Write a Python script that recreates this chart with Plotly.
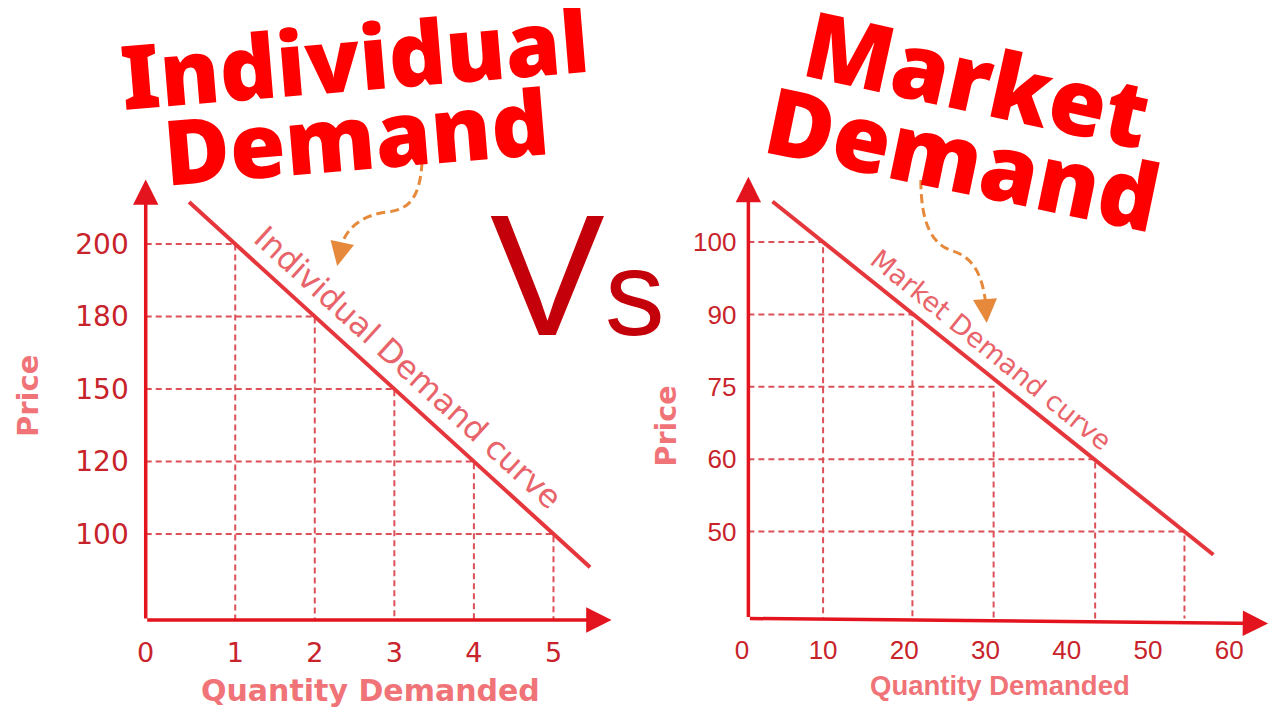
import plotly.graph_objects as go

# ---------------- data ----------------
# Individual demand schedule
ind_qty = [1, 2, 3, 4, 5]
ind_price = [200, 180, 150, 120, 100]
ind_x_ticks = [0, 1, 2, 3, 4, 5]

# Market demand schedule
mkt_qty = [10, 21, 31, 43.5, 54.5]
mkt_price = [100, 90, 75, 60, 50]
mkt_x_ticks = [0, 10, 20, 30, 40, 50, 60]

# ---------------- style constants ----------------
W, H = 1280, 720
OFF = 8  # page body margin
AXIS_C = "#e3141e"
TICK_C = "#c8232b"
GUIDE_C = "#dc5058"
LINE_C = "#e5363c"
LABEL_C = "#e8646a"
TITLE_AX_C = "#f07378"
TITLE_C = "#ff0000"
ORANGE = "#e6893b"
VS_C = "#c4000b"

# price positions: evenly spaced ranks (highest price on top)
ind_pos = list(range(len(ind_price), 0, -1))
mkt_pos = list(range(len(mkt_price), 0, -1))


def xdom(origin, scale, rng):
    return [(origin + scale * rng[0] - OFF) / W, (origin + scale * rng[1] - OFF) / W]


def ydom(origin, scale, rng):
    return [1 - (origin - scale * rng[0] - OFF) / H, 1 - (origin - scale * rng[1] - OFF) / H]


def P(x, y):
    return (x - OFF) / W, 1 - (y - OFF) / H


def path_from(pts):
    s = ""
    for cmd, coords in pts:
        s += cmd + " " + " ".join("%.5f,%.5f" % P(x, y) for x, y in coords) + " "
    return s.strip()


# axis geometry (page-pixel origin and pixels per unit)
LX_O, LX_S, LX_R = 153.0, 79.75, [-0.2, 5.8]
LY_O, LY_S, LY_R = 606.5, 72.5, [-0.3, 6.0]
RX_O, RX_S, RX_R = 740.6, 8.14, [-0.5, 65.5]
RY_O, RY_S, RY_R = 604.0, 72.4, [-0.3, 6.0]

L_AX_X, L_AX_Y = -0.125, -0.186
L_TIP_X, L_TIP_Y = 5.73, 5.89
R_AX_X, R_AX_Y = 0.8, -0.2
R_TIP_X, R_TIP_Y = 64.8, 5.9
R_TILT = -0.07


def extend(q, p, a, b):
    # straight line from first to last point, extended at both ends
    dq, dp = q[-1] - q[0], p[-1] - p[0]
    xs = [q[0] - a * dq, q[-1] + b * dq]
    ys = [p[0] - a * dp, p[-1] + b * dp]
    return xs, ys


def guides(q, p, x0, y0):
    xs, ys = [], []
    for qi, pi in zip(q, p):
        xs += [x0, qi, qi, None]
        ys += [pi, pi, y0, None]
    return xs, ys


fig = go.Figure()

# guides
gx, gy = guides(ind_qty, ind_pos, L_AX_X, L_AX_Y)
fig.add_trace(go.Scatter(x=gx, y=gy, mode="lines", xaxis="x", yaxis="y",
                         line=dict(color=GUIDE_C, width=2, dash="6px,4px"),
                         hoverinfo="skip", showlegend=False))
gx, gy = guides(mkt_qty, mkt_pos, R_AX_X, R_AX_Y)
fig.add_trace(go.Scatter(x=gx, y=gy, mode="lines", xaxis="x2", yaxis="y2",
                         line=dict(color=GUIDE_C, width=2, dash="6px,4px"),
                         hoverinfo="skip", showlegend=False))

# demand curves
cx, cy = extend(ind_qty, ind_pos, 0.145, 0.115)
fig.add_trace(go.Scatter(x=cx, y=cy, mode="lines", xaxis="x", yaxis="y",
                         line=dict(color=LINE_C, width=4),
                         showlegend=False, name="Individual Demand curve"))
cx, cy = extend(mkt_qty, mkt_pos, 0.14, 0.08)
fig.add_trace(go.Scatter(x=cx, y=cy, mode="lines", xaxis="x2", yaxis="y2",
                         line=dict(color=LINE_C, width=4),
                         showlegend=False, name="Market Demand curve"))

ann = []
# axis arrows
for xr, yr, x0, y0, x1, y1 in [
    ("x", "y", L_AX_X, L_AX_Y, L_AX_X, L_TIP_Y),
    ("x", "y", L_AX_X, L_AX_Y, L_TIP_X, L_AX_Y),
    ("x2", "y2", R_AX_X, R_AX_Y, R_AX_X, R_TIP_Y),
    ("x2", "y2", R_AX_X, R_AX_Y, R_TIP_X, R_AX_Y + R_TILT),
]:
    ann.append(dict(x=x1, y=y1, ax=x0, ay=y0, xref=xr, yref=yr, axref=xr, ayref=yr,
                    text="", showarrow=True, arrowhead=2, arrowsize=1.45,
                    arrowwidth=3.5, arrowcolor=AXIS_C, standoff=0))

# curve labels
ann.append(dict(x=ind_qty[2], y=ind_pos[2], xref="x", yref="y", xshift=14, yshift=21,
                text="Individual Demand curve", showarrow=False, textangle=42.3,
                font=dict(family="DejaVu Sans", size=32, color=LABEL_C)))
ann.append(dict(x=mkt_qty[2], y=mkt_pos[2], xref="x2", yref="y2", xshift=-3, yshift=37,
                text="Market Demand curve", showarrow=False, textangle=39,
                font=dict(family="DejaVu Sans", size=27, color=LABEL_C)))

# axis titles
for txt, (x, y), ang, fam, sz in [
    ("Price", (25, 396), -90, "DejaVu Sans", 29),
    ("Quantity Demanded", (368, 690), 0, "DejaVu Sans", 30),
    ("Price", (665, 426), -90, "DejaVu Sans", 28.5),
    ("Quantity Demanded", (999, 685), 0, "Liberation Sans", 27.5),
]:
    px, py = P(x, y)
    ann.append(dict(x=px, y=py, xref="paper", yref="paper", text="<b>%s</b>" % txt,
                    showarrow=False, textangle=ang, xanchor="center", yanchor="middle",
                    font=dict(family=fam, size=sz, color=TITLE_AX_C)))

# big titles
for txt, (x, y), ang, sz in [
    ("Individual", (352, 57), -4.7, 89),
    ("Demand", (354, 135), -4.7, 90),
    ("Market", (977, 78), 12.4, 92),
    ("Demand", (963, 157), 11.8, 93),
]:
    px, py = P(x, y)
    ann.append(dict(x=px, y=py, xref="paper", yref="paper", text=txt,
                    showarrow=False, textangle=ang, xanchor="center", yanchor="middle",
                    font=dict(family="Noto Sans", size=sz, color=TITLE_C, weight=900)))

# Vs
px, py = P(576, 275)
ann.append(dict(x=px, y=py, xref="paper", yref="paper",
                text='V<span style="font-size:120px">s</span>', showarrow=False,
                xanchor="center", yanchor="middle",
                font=dict(family="Liberation Sans", size=172, color=VS_C)))

# orange arrowheads
for (tx, ty), (dx, dy) in [((335, 266), (3, -14)), ((986, 323), (-1, -14))]:
    px, py = P(tx, ty)
    ann.append(dict(x=px, y=py, xref="paper", yref="paper", ax=dx, ay=dy, text="",
                    showarrow=True, arrowhead=2, arrowsize=1.6, arrowwidth=3,
                    arrowcolor=ORANGE, standoff=0))

shapes = [
    dict(type="path", xref="paper", yref="paper",
         path=path_from([("M", [(420, 162)]),
                         ("C", [(418, 200), (405, 210), (385, 212)]),
                         ("C", [(360, 215), (340, 228), (336, 258)])]),
         line=dict(color=ORANGE, width=3, dash="9px,5px")),
    dict(type="path", xref="paper", yref="paper",
         path=path_from([("M", [(920, 180)]),
                         ("C", [(920, 225), (932, 245), (952, 251)]),
                         ("C", [(975, 258), (984, 280), (986, 315)])]),
         line=dict(color=ORANGE, width=3, dash="9px,5px")),
]

axis_common = dict(showgrid=False, zeroline=False, showline=False, ticks="",
                   fixedrange=True)

# the origin "0" sits at the corner of the axes
ind_tick_pos = [L_AX_X if v == 0 else v for v in ind_x_ticks]

fig.update_layout(
    width=W, height=H, autosize=False,
    margin=dict(l=0, r=0, t=0, b=0),
    paper_bgcolor="white", plot_bgcolor="rgba(0,0,0,0)",
    showlegend=False,
    xaxis=dict(domain=xdom(LX_O, LX_S, LX_R), range=LX_R, anchor="free",
               position=1 - (LY_O - LY_S * L_AX_Y - OFF) / H,
               tickmode="array", tickvals=ind_tick_pos,
               ticktext=[str(v) for v in ind_x_ticks], ticklabelstandoff=14,
               tickfont=dict(family="DejaVu Sans", size=27, color=TICK_C),
               **axis_common),
    yaxis=dict(domain=ydom(LY_O, LY_S, LY_R), range=LY_R, anchor="free",
               position=(LX_O + LX_S * L_AX_X - OFF) / W,
               tickmode="array", tickvals=ind_pos,
               ticktext=[str(v) for v in ind_price], ticklabelstandoff=17,
               tickfont=dict(family="DejaVu Sans", size=28, color=TICK_C),
               **axis_common),
    xaxis2=dict(domain=xdom(RX_O, RX_S, RX_R), range=RX_R, anchor="free",
                position=1 - (RY_O - RY_S * R_AX_Y - OFF) / H,
                tickmode="array", tickvals=mkt_x_ticks,
                ticktext=[str(v) for v in mkt_x_ticks], ticklabelstandoff=14,
                tickfont=dict(family="Liberation Sans", size=26, color=TICK_C),
                **axis_common),
    yaxis2=dict(domain=ydom(RY_O, RY_S, RY_R), range=RY_R, anchor="free",
                position=(RX_O + RX_S * R_AX_X - OFF) / W,
                tickmode="array", tickvals=mkt_pos,
                ticktext=[str(v) for v in mkt_price], ticklabelstandoff=12,
                tickfont=dict(family="Liberation Sans", size=26, color=TICK_C),
                **axis_common),
    annotations=ann,
    shapes=shapes,
)

fig.write_html("out.html")
